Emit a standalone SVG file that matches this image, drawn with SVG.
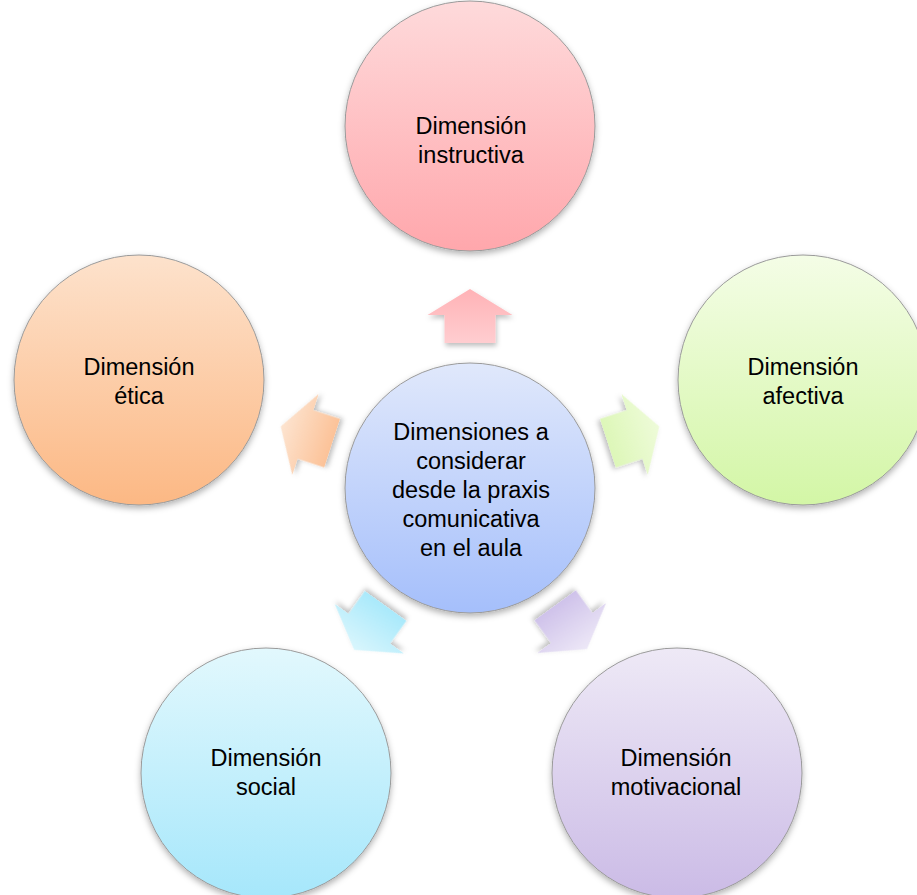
<svg xmlns="http://www.w3.org/2000/svg" width="917" height="895" viewBox="0 0 917 895">
<defs>
<style>
.c{stroke:#9a9a9a;stroke-width:1;filter:url(#sh)}
.a{filter:url(#sh2)}
text{font-family:"Liberation Sans",Arial,sans-serif;font-size:23.5px;fill:#000;text-anchor:middle}
</style>
<filter id="sh" x="-20%" y="-20%" width="140%" height="140%"><feDropShadow dx="0" dy="3" stdDeviation="3" flood-color="#000" flood-opacity="0.3"/></filter>
<filter id="sh2" x="-30%" y="-30%" width="160%" height="160%"><feDropShadow dx="1" dy="3" stdDeviation="2.5" flood-color="#000" flood-opacity="0.25"/></filter>
<linearGradient id="gPink" x1="0" y1="0" x2="0" y2="1"><stop offset="0" stop-color="#fedadb"/><stop offset="1" stop-color="#ffa7ac"/></linearGradient>
<linearGradient id="gGreen" x1="0" y1="0" x2="0" y2="1"><stop offset="0" stop-color="#f4fde6"/><stop offset="1" stop-color="#d3f6a6"/></linearGradient>
<linearGradient id="gOrange" x1="0" y1="0" x2="0" y2="1"><stop offset="0" stop-color="#fde2cc"/><stop offset="1" stop-color="#fcb884"/></linearGradient>
<linearGradient id="gCyan" x1="0" y1="0" x2="0" y2="1"><stop offset="0" stop-color="#e2f8fd"/><stop offset="1" stop-color="#a6e7fb"/></linearGradient>
<linearGradient id="gPurple" x1="0" y1="0" x2="0" y2="1"><stop offset="0" stop-color="#eee9f6"/><stop offset="1" stop-color="#cbbbe6"/></linearGradient>
<linearGradient id="gBlue" x1="0" y1="0" x2="0" y2="1"><stop offset="0" stop-color="#e0e8fb"/><stop offset="1" stop-color="#a5bffb"/></linearGradient>
<linearGradient id="aPink" x1="0" y1="0" x2="0" y2="1"><stop offset="0" stop-color="#ffb2b6"/><stop offset="1" stop-color="#ffcdd0"/></linearGradient>
<linearGradient id="aGreen" x1="0" y1="0" x2="0" y2="1"><stop offset="0" stop-color="#eefbd9"/><stop offset="1" stop-color="#ddf7b8"/></linearGradient>
<linearGradient id="aOrange" x1="0" y1="0" x2="0" y2="1"><stop offset="0" stop-color="#fde4d0"/><stop offset="1" stop-color="#fcc298"/></linearGradient>
<linearGradient id="aCyan" x1="0" y1="0" x2="0" y2="1"><stop offset="0" stop-color="#d9f6fd"/><stop offset="1" stop-color="#a9e9fb"/></linearGradient>
<linearGradient id="aPurple" x1="0" y1="0" x2="0" y2="1"><stop offset="0" stop-color="#ede8f7"/><stop offset="1" stop-color="#cfc2ea"/></linearGradient>
<path id="arr" d="M0,-27 L42.5,-1 L25.5,-1 L25.5,27 L-25.5,27 L-25.5,-1 L-42.5,-1 Z"/>
</defs>
<g id="connectors">
<use href="#arr" class="a" fill="url(#aPink)" transform="translate(470,316)"/>
<use href="#arr" class="a" fill="url(#aGreen)" transform="translate(633.6,434.8) rotate(72)"/>
<use href="#arr" class="a" fill="url(#aOrange)" transform="translate(306.4,434.8) rotate(-72)"/>
<use href="#arr" class="a" fill="url(#aCyan)" transform="translate(369.9,627.9) rotate(215.6)"/>
<use href="#arr" class="a" fill="url(#aPurple)" transform="translate(571.1,627.2) rotate(144)"/>
</g>
<g id="center">
<circle class="c" cx="470" cy="488" r="125" fill="url(#gBlue)"/>
<text x="471" y="440">Dimensiones a</text>
<text x="471" y="469">considerar</text>
<text x="471" y="498">desde la praxis</text>
<text x="471" y="527">comunicativa</text>
<text x="471" y="556">en el aula</text>
</g>
<g id="instructiva">
<circle class="c" cx="470" cy="126" r="125" fill="url(#gPink)"/>
<text x="471" y="134">Dimensión</text>
<text x="471" y="163">instructiva</text>
</g>
<g id="afectiva">
<circle class="c" cx="803" cy="380" r="125" fill="url(#gGreen)"/>
<text x="803" y="375">Dimensión</text>
<text x="803" y="404">afectiva</text>
</g>
<g id="etica">
<circle class="c" cx="139" cy="380" r="125" fill="url(#gOrange)"/>
<text x="139" y="375">Dimensión</text>
<text x="139" y="404">ética</text>
</g>
<g id="social">
<circle class="c" cx="266" cy="773" r="125" fill="url(#gCyan)"/>
<text x="266" y="766">Dimensión</text>
<text x="266" y="795">social</text>
</g>
<g id="motivacional">
<circle class="c" cx="677" cy="773" r="125" fill="url(#gPurple)"/>
<text x="676" y="766">Dimensión</text>
<text x="676" y="795">motivacional</text>
</g>
</svg>
